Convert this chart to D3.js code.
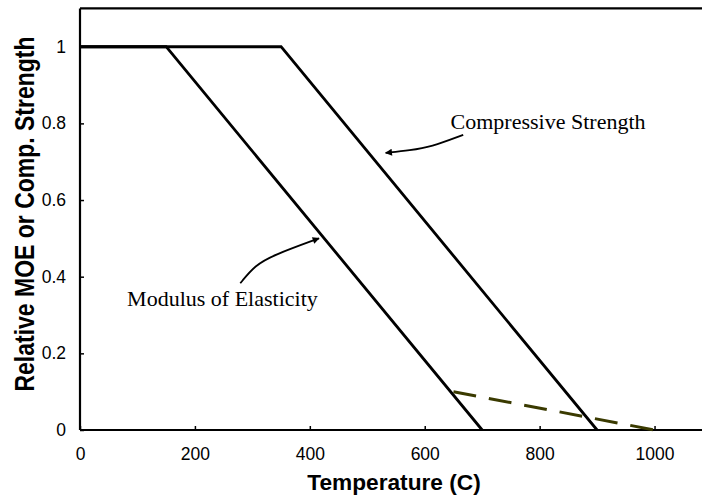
<!DOCTYPE html>
<html>
<head>
<meta charset="utf-8">
<script src="https://cdn.jsdelivr.net/npm/d3@7"></script>
<style>
body { margin: 0; background: #fff; }
.tick text { font-family: Arial, "Liberation Sans", sans-serif; font-size: 17.5px; fill: #000; }
</style>
</head>
<body>
<script>
var w = 702;
var h = 497;

// Data
var moeTemp = [0, 150, 700];
var moeValue = [1, 1, 0];
var strengthTemp = [0, 350, 900];
var strengthValue = [1, 1, 0];
var dashTemp = [650, 1000];
var dashValue = [0.1, 0];
var xTicks = [0, 200, 400, 600, 800, 1000];
var yTicks = [0, 0.2, 0.4, 0.6, 0.8, 1];

// annotations (data units)
var strengthLabel = { text: "Compressive Strength", t: 645, v: 0.785 };
var strengthArrow = [[667, 0.77], [610, 0.738], [575, 0.73], [532, 0.723]];
var moeLabel = { text: "Modulus of Elasticity", t: 82, v: 0.3235 };
var moeArrow = [[279, 0.383], [305, 0.43], [336, 0.456], [416, 0.5]];

var svg = d3.select("body")
            .append("svg")
            .attr("width", w)
            .attr("height", h);

var xScale = d3.scaleLinear()
               .domain([0, 1100])
               .range([80, 712]);
var yScale = d3.scaleLinear()
               .domain([0, 1.1])
               .range([430, 8.4]);

var defs = svg.append("defs");
defs.append("marker")
    .attr("id", "head")
    .attr("viewBox", "0 0 10 10")
    .attr("refX", 9)
    .attr("refY", 5)
    .attr("markerWidth", 9)
    .attr("markerHeight", 7)
    .attr("markerUnits", "userSpaceOnUse")
    .attr("orient", "auto")
    .append("path")
    .attr("d", "M0,0L10,5L0,10Z")
    .attr("fill", "#000");

// frame top line
svg.append("line")
    .attr("x1", xScale(0)).attr("x2", w)
    .attr("y1", yScale(1.1)).attr("y2", yScale(1.1))
    .attr("stroke", "#000").attr("stroke-width", 2.2);

var xAxis = d3.axisBottom(xScale).tickValues(xTicks).tickSizeInner(-4).tickSizeOuter(0).tickPadding(18)
              .tickFormat(function(d){ return String(d); });
var yAxis = d3.axisLeft(yScale).tickValues(yTicks).tickSizeInner(-4).tickSizeOuter(0).tickPadding(14)
              .tickFormat(function(d){ return String(d); });

var gx = svg.append("g")
    .attr("transform", "translate(0," + yScale(0) + ")")
    .call(xAxis);
gx.select(".domain").attr("d", "M" + xScale(0) + ",0H" + w).attr("stroke-width", 2.2);
gx.selectAll(".tick line").attr("stroke-width", 1.5);

var gy = svg.append("g")
    .attr("transform", "translate(" + xScale(0) + ",0)")
    .call(yAxis);
gy.select(".domain").attr("d", "M0," + yScale(0) + "V" + yScale(1.1)).attr("stroke-width", 2.2);
gy.selectAll(".tick line").attr("stroke-width", 1.5);

var line = d3.line()
    .x(function(d){ return xScale(d[0]); })
    .y(function(d){ return yScale(d[1]); });

svg.append("path")
    .datum(d3.zip(moeTemp, moeValue))
    .attr("d", line)
    .attr("fill", "none").attr("stroke", "#000").attr("stroke-width", 2.8);

svg.append("path")
    .datum(d3.zip(strengthTemp, strengthValue))
    .attr("d", line)
    .attr("fill", "none").attr("stroke", "#000").attr("stroke-width", 2.8);

svg.append("path")
    .datum(d3.zip(dashTemp, dashValue))
    .attr("d", line)
    .attr("fill", "none").attr("stroke", "#3a3a00").attr("stroke-width", 3)
    .attr("stroke-dasharray", "23,13");

// labels + arrows
var curve = d3.line()
    .x(function(d){ return xScale(d[0]); })
    .y(function(d){ return yScale(d[1]); })
    .curve(d3.curveBasis);

[strengthArrow, moeArrow].forEach(function(a){
    svg.append("path")
        .datum(a)
        .attr("d", curve)
        .attr("fill", "none").attr("stroke", "#000").attr("stroke-width", 1.8)
        .attr("marker-end", "url(#head)");
});

[strengthLabel, moeLabel].forEach(function(l){
    svg.append("text")
        .attr("x", xScale(l.t))
        .attr("y", yScale(l.v))
        .attr("font-family", "'Times New Roman', 'Liberation Serif', serif")
        .attr("font-size", "22px")
        .text(l.text);
});

// axis titles
svg.append("text")
    .attr("x", 394)
    .attr("y", 490)
    .attr("text-anchor", "middle")
    .attr("font-family", "Arial, 'Liberation Sans', sans-serif")
    .attr("font-weight", "bold")
    .attr("font-size", "22.7px")
    .text("Temperature (C)");

svg.append("text")
    .attr("transform", "translate(34,214) rotate(-90) scale(1,1.2)")
    .attr("text-anchor", "middle")
    .attr("font-family", "Arial, 'Liberation Sans', sans-serif")
    .attr("font-weight", "bold")
    .attr("font-size", "23px")
    .text("Relative MOE or Comp. Strength");
</script>
</body>
</html>
